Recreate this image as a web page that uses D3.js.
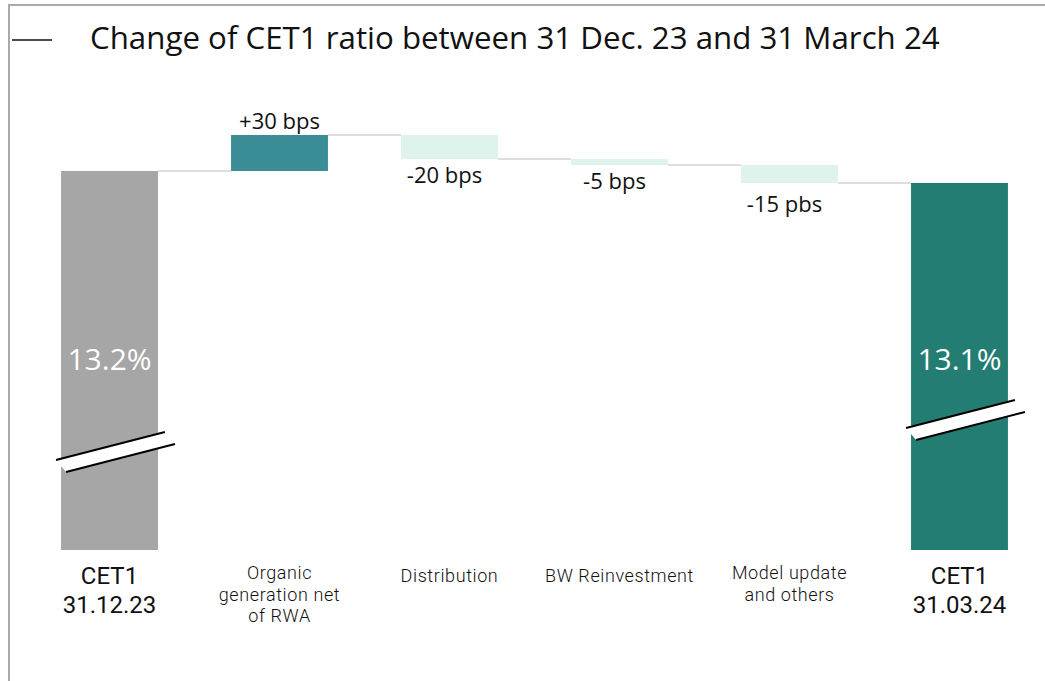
<!DOCTYPE html>
<html>
<head>
<meta charset="utf-8">
<script src="https://cdn.jsdelivr.net/npm/d3@7"></script>
<style>
  body { margin: 0; background: #fff; }
  svg { display: block; font-family: "Open Sans", sans-serif; }
  .cat { font-family: Roboto, sans-serif; font-weight: 400; }
  .cat-small { font-weight: 300; letter-spacing: 0.6px; }
</style>
</head>
<body>
<svg id="chart" width="1045" height="681"></svg>
<script>
// data (bps, 1320 = 13.2%)
const categories = ["start", "organic", "distribution", "bw", "model", "end"];
const categoryLabels = [
    ["CET1", "31.12.23"],
    ["Organic", "generation net", "of RWA"],
    ["Distribution"],
    ["BW Reinvestment"],
    ["Model update", "and others"],
    ["CET1", "31.03.24"]
];
const startValue = 1320;
const deltas = [30, -20, -5, -15];
const endValue = 1310;
const deltaLabels = ["+30 bps", "-20 bps", "-5 bps", "-15 pbs"];
const totalLabels = ["13.2%", "13.1%"];

const width = 1045, height = 681;
const svg = d3.select("#chart");

// frame
svg.append("path")
    .attr("d", `M9,${height} V5 H${width}`)
    .attr("fill", "none")
    .attr("stroke", "#aaaaaa")
    .attr("stroke-width", 2);

// title
svg.append("line")
    .attr("x1", 12).attr("x2", 52)
    .attr("y1", 40).attr("y2", 40)
    .attr("stroke", "#111").attr("stroke-width", 1.5);

const title = svg.append("text")
    .attr("x", 90).attr("y", 49)
    .style("font-size", "28px")
    .style("fill", "#111")
    .text("Change of CET1 ratio between 31 Dec. 23 and 31 March 24");
// fit to original width
const tw = title.node().getComputedTextLength();
title.style("font-size", (28 * 850 / tw).toFixed(2) + "px");

// build the waterfall steps
const steps = [];
let running = startValue;
steps.push({ key: categories[0], y0: null, y1: startValue, type: "total" });
deltas.forEach((d, i) => {
    const from = running;
    running += d;
    steps.push({ key: categories[i + 1], y0: from, y1: running, type: d >= 0 ? "up" : "down", label: deltaLabels[i] });
});
steps.push({ key: categories[5], y0: null, y1: endValue, type: "total" });

const x = d3.scaleBand()
    .domain(categories)
    .range([7, 1062])
    .paddingInner(0.43)
    .paddingOuter(0.318);

// broken axis: bottom of totals is far below the visible part
const y = d3.scaleLinear()
    .domain([1004, 1350])
    .range([550, 135]);

const colors = { total0: "#a6a6a6", total1: "#237d72", up: "#3a8c96", down: "#ddf3ec" };

// connectors
for (let i = 0; i < steps.length - 1; i++) {
    const lvl = steps[i].y1;
    svg.append("line")
        .attr("x1", x(steps[i].key) + x.bandwidth())
        .attr("x2", x(steps[i + 1].key))
        .attr("y1", y(lvl)).attr("y2", y(lvl))
        .attr("stroke", "#dddddd")
        .attr("stroke-width", 2);
}

// bars
steps.forEach((s, i) => {
    let top, bottom, fill;
    if (s.type === "total") {
        top = y(s.y1);
        bottom = y(y.domain()[0]);
        fill = i === 0 ? colors.total0 : colors.total1;
    } else {
        top = y(Math.max(s.y0, s.y1));
        bottom = y(Math.min(s.y0, s.y1));
        fill = colors[s.type];
    }
    svg.append("rect")
        .attr("x", x(s.key))
        .attr("y", top)
        .attr("width", x.bandwidth())
        .attr("height", bottom - top)
        .attr("fill", fill);

    if (s.type === "up") {
        svg.append("text")
            .attr("x", x(s.key) + x.bandwidth() / 2)
            .attr("y", top - 6)
            .attr("text-anchor", "middle")
            .style("font-size", "22px")
            .style("fill", "#111")
            .text(s.label);
    } else if (s.type === "down") {
        svg.append("text")
            .attr("x", x(s.key) + x.bandwidth() / 2 - 5)
            .attr("y", bottom + (i === 4 ? 29 : 24))
            .attr("text-anchor", "middle")
            .style("font-size", "22px")
            .style("fill", "#111")
            .text(s.label);
    }
});

// totals labels + axis breaks
const breakY = [452, 420];
[0, 5].forEach((i, k) => {
    const s = steps[i];
    const bx = x(s.key);
    svg.append("text")
        .attr("x", bx + x.bandwidth() / 2)
        .attr("y", 370)
        .attr("text-anchor", "middle")
        .style("font-size", "30px")
        .style("fill", "#fff")
        .text(totalLabels[k]);

    const x1 = bx - 5, x2 = bx + x.bandwidth() + 7;
    const yc = breakY[k];
    const y1 = yc - 6 + 14, y2 = yc - 6 - 14;
    svg.append("polygon")
        .attr("points", `${x1},${y1} ${x2},${y2} ${x2 + 10},${y2 + 12} ${x1 + 10},${y1 + 12}`)
        .attr("fill", "#fff");
    svg.append("line")
        .attr("x1", x1).attr("y1", y1).attr("x2", x2).attr("y2", y2)
        .attr("stroke", "#000").attr("stroke-width", 2);
    svg.append("line")
        .attr("x1", x1 + 10).attr("y1", y1 + 12).attr("x2", x2 + 10).attr("y2", y2 + 12)
        .attr("stroke", "#000").attr("stroke-width", 2);
});

// category labels (one text per line)
steps.forEach((s, i) => {
    const total = s.type === "total";
    const lines = categoryLabels[i];
    const y0 = total ? 584 : (lines.length === 1 ? 582 : 579);
    lines.forEach((line, j) => {
        svg.append("text")
            .attr("class", total ? "cat" : "cat cat-small")
            .attr("x", x(s.key) + x.bandwidth() / 2)
            .attr("y", y0 + j * (total ? 28.5 : 21.5))
            .attr("text-anchor", "middle")
            .style("font-size", total ? "24px" : "18px")
            .style("fill", "#111")
            .text(line);
    });
});
</script>
</body>
</html>
